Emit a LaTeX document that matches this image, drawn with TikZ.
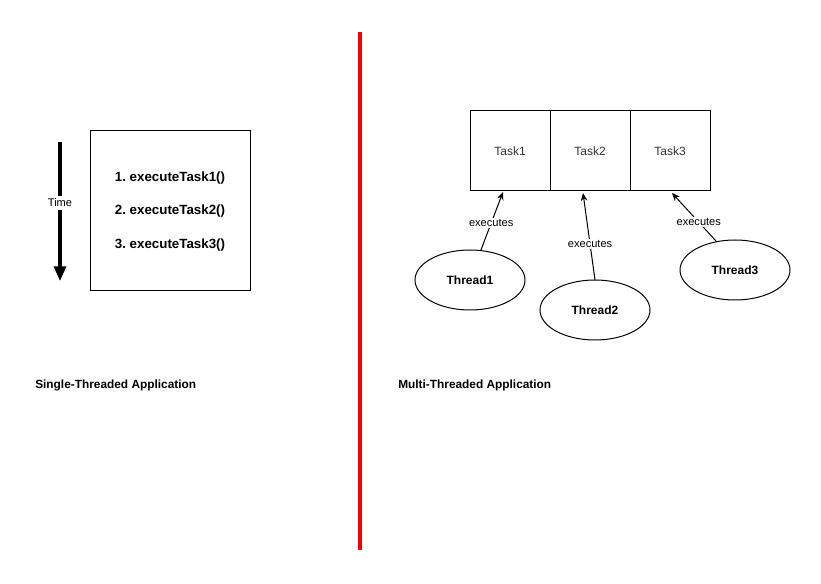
\documentclass[tikz,border=0pt]{standalone}
\usepackage{fontspec}
\setmainfont{Liberation Sans}
\usetikzlibrary{arrows.meta,shapes.geometric}
\frenchspacing
\begin{document}
\begin{tikzpicture}[x=0.75pt,y=-0.75pt,
  box/.style={draw,line width=0.75pt,inner sep=0,outer sep=0},
  task/.style={box,minimum width=60pt,minimum height=60pt,font=\fontsize{9}{11}\selectfont,text=black!80},
  thread/.style={draw,ellipse,line width=0.75pt,inner sep=0,outer sep=0,minimum width=82.5pt,minimum height=45pt,font=\bfseries\fontsize{9}{11}\selectfont},
  conn/.style={line width=0.75pt,-{Stealth[length=6pt,width=5pt]}},
  lbl/.style={fill=white,inner sep=1pt,font=\fontsize{8.3}{10}\selectfont},
  call/.style={font=\bfseries\fontsize{10}{12}\selectfont},
  title/.style={anchor=west,inner sep=0,font=\bfseries\fontsize{8.9}{10}\selectfont}]
\useasboundingbox (0,0) rectangle (821,584);
% divider
\draw[red!95!black,line width=2.3pt] (360,32) -- (360,550);
% single threaded
\node[box,minimum width=120pt,minimum height=120pt] (single) at (170,211) {};
\node[call] (c1) at (170,178) {1. executeTask1()};
\node[call] (c2) at (170,211) {2. executeTask2()};
\node[call] (c3) at (170,245) {3. executeTask3()};
\coordinate (ts) at (60,142);
\coordinate (te) at (60,281);
\draw[line width=2.3pt,-{Triangle[length=11pt,width=9pt]}] (ts) -- (te);
\node[lbl,inner sep=2pt] (time) at (60,203) {Time};
\node[title] (st) at (35,385) {Single-Threaded Application};
% multi threaded
\node[task] (t1) at (510,151) {Task1};
\node[task] (t2) at (590,151) {Task2};
\node[task] (t3) at (670,151) {Task3};
\node[thread] (th1) at (470,280) {Thread1};
\node[thread] (th2) at (595,310) {Thread2};
\node[thread] (th3) at (735,270) {Thread3};
\coordinate (a1) at (503,192);
\coordinate (a2) at (583,193);
\coordinate (a3) at (672,193);
\draw[conn] (th1.70) -- (a1) node[lbl,pos=0.47] {executes};
\draw[conn] (th2.north) -- (a2) node[lbl,pos=0.41] {executes};
\draw[conn] (th3.123) -- (a3) node[lbl,pos=0.4] {executes};
\node[title] (mt) at (398,385) {Multi-Threaded Application};
\end{tikzpicture}
\end{document}
